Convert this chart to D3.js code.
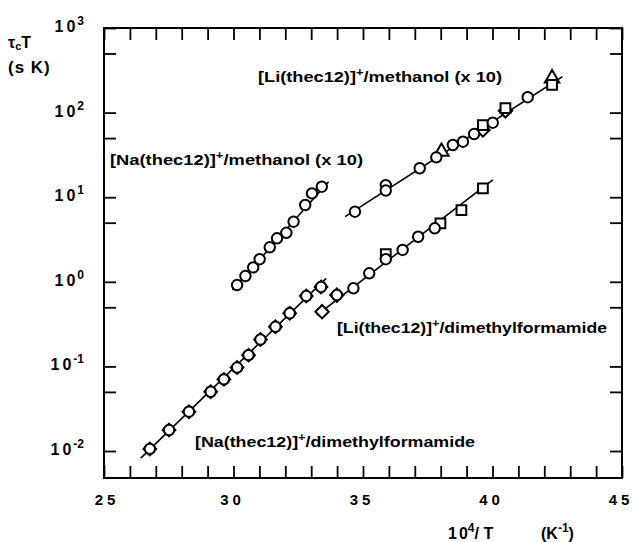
<!DOCTYPE html>
<html>
<head>
<meta charset="utf-8">
<script src="https://cdn.jsdelivr.net/npm/d3@7"></script>
<style>
  body { margin: 0; background: #fff; }
  text { font-family: "Liberation Sans", Arial, sans-serif; fill: #000; }
</style>
</head>
<body>
<div id="chart"></div>
<script>
// data (x = 10^4/T, y = tau_c T in s K)
const naDmfX = [26.77, 27.51, 28.28, 29.12, 29.63, 30.14, 30.58, 31.04, 31.62, 32.17, 32.81, 33.38];
const naDmfY = [0.0106, 0.0177, 0.0292, 0.0502, 0.0703, 0.097, 0.136, 0.208, 0.294, 0.425, 0.679, 0.869];

const naMethX = [30.14, 30.46, 30.76, 31.01, 31.40, 31.68, 32.04, 32.32, 32.77, 33.03, 33.41];
const naMethY = [0.916, 1.17, 1.48, 1.85, 2.56, 3.27, 3.80, 5.13, 8.09, 11.1, 13.3];

const liDmfX = [33.99, 34.63, 35.24, 35.88, 36.53, 37.13, 37.77];
const liDmfY = [0.698, 0.838, 1.26, 1.85, 2.38, 3.41, 4.29];
const liDmfSqX = [35.88, 37.99, 38.80, 39.63];
const liDmfSqY = [2.13, 4.91, 7.06, 12.7];
const liDmfDiX = [33.42, 33.99];
const liDmfDiY = [0.443, 0.698];

const liMethX = [34.69, 35.88, 35.88, 37.19, 37.83, 38.47, 38.86, 39.29, 40.01, 41.36];
const liMethY = [6.74, 13.9, 12.0, 22.0, 29.6, 41.4, 45.3, 55.8, 76, 152];
const liMethSqX = [39.63, 40.50, 42.30];
const liMethSqY = [71.3, 113, 212];
const liMethDiX = [39.63, 40.50];
const liMethDiY = [62.3, 105];
const liMethTriX = [38.03, 42.30];
const liMethTriY = [34.5, 254];

// fitted lines, end points
const fitLines = [
  { x: [26.42, 33.58], y: [0.00826, 1.10] },
  { x: [29.96, 33.67], y: [0.80, 15.2] },
  { x: [33.22, 40.01], y: [0.405, 16.0] },
  { x: [34.31, 42.70], y: [5.89, 266] }
];

const xTicks = d3.range(25, 46, 1);
const xLabels = [25, 30, 35, 40, 45];
const yMajor = [-2, -1, 0, 1, 2, 3];
const yMinor = [0.05, 0.5, 5, 50, 500];

const width = 632, height = 542;
const margin = { top: 28, right: 10, bottom: 64, left: 104 };
const plotW = width - margin.left - margin.right;
const plotH = height - margin.top - margin.bottom;

const svg = d3.select("#chart")
  .append("svg")
  .attr("width", width)
  .attr("height", height);

const g = svg.append("g")
  .attr("transform", `translate(${margin.left},${margin.top})`);

const x = d3.scaleLinear().domain([25, 45]).range([0, plotW]);
const y = d3.scaleLog().domain([0.0048, 1000]).range([plotH, 0]);

// frame
g.append("rect")
  .attr("width", plotW).attr("height", plotH)
  .attr("fill", "none").attr("stroke", "#000").attr("stroke-width", 2);

const tickLen = 12;
// x ticks (top and bottom, inward)
g.append("g").attr("transform", `translate(0,${plotH})`)
  .call(d3.axisBottom(x).tickValues(xTicks).tickSizeInner(-tickLen).tickSizeOuter(0).tickFormat(""))
  .call(a => a.select(".domain").remove())
  .selectAll("line").attr("stroke-width", 1.8);
g.append("g")
  .call(d3.axisTop(x).tickValues(xTicks).tickSizeInner(-tickLen).tickSizeOuter(0).tickFormat(""))
  .call(a => a.select(".domain").remove())
  .selectAll("line").attr("stroke-width", 1.8);

// y ticks (left and right, inward)
const yTickVals = yMajor.map(e => Math.pow(10, e)).concat(yMinor);
g.append("g")
  .call(d3.axisLeft(y).tickValues(yTickVals).tickSizeInner(-tickLen).tickSizeOuter(0).tickFormat(""))
  .call(a => a.select(".domain").remove())
  .selectAll("line").attr("stroke-width", 1.8);
g.append("g").attr("transform", `translate(${plotW},0)`)
  .call(d3.axisRight(y).tickValues(yTickVals).tickSizeInner(-tickLen).tickSizeOuter(0).tickFormat(""))
  .call(a => a.select(".domain").remove())
  .selectAll("line").attr("stroke-width", 1.8);

// x tick labels (digits spaced apart like the original)
const xlab = g.selectAll(".xlab")
  .data(xLabels)
  .enter().append("text")
  .attr("x", d => x(d) - (d === 25 ? -1 : 3))
  .attr("y", plotH + 27)
  .attr("text-anchor", "middle")
  .style("font-size", "15px").style("font-weight", "bold");
xlab.append("tspan").text(d => String(d)[0]);
xlab.append("tspan").attr("dx", 4).text(d => String(d)[1]);

// y tick labels
const ylab = g.selectAll(".ylab")
  .data(yMajor)
  .enter().append("text")
  .attr("x", -20)
  .attr("y", d => y(Math.pow(10, d)) + 4)
  .attr("text-anchor", "end")
  .style("font-size", "16px").style("font-weight", "bold");
ylab.append("tspan").text("1");
ylab.append("tspan").attr("dx", 3).text("0");
ylab.append("tspan").attr("dx", 2).attr("dy", -7).style("font-size", "12px").text(d => d < 0 ? "-" + (-d) : d);

// axis titles
const yt = svg.append("text").attr("x", 8).attr("y", 48)
  .style("font-size", "16px").style("font-weight", "bold");
yt.append("tspan").text("τ");
yt.append("tspan").attr("dy", 2).style("font-size", "11px").text("c");
yt.append("tspan").attr("dy", -2).text("T");
svg.append("text").attr("x", 8).attr("y", 73)
  .style("font-size", "17px").style("font-weight", "bold")
  .style("letter-spacing", "1px").text("(s  K)");

const xt = svg.append("text").attr("x", 448).attr("y", 539)
  .style("font-size", "16px").style("font-weight", "bold");
xt.append("tspan").text("1");
xt.append("tspan").attr("dx", 2).text("0");
xt.append("tspan").attr("dy", -7).style("font-size", "12px").text("4");
xt.append("tspan").attr("dy", 7).text("/ T");
xt.append("tspan").attr("x", 541).text("(K");
xt.append("tspan").attr("dy", -7).style("font-size", "12px").text("-1");
xt.append("tspan").attr("dy", 7).text(")");

// fitted lines
const line = d3.line().x(d => x(d[0])).y(d => y(d[1]));
g.selectAll(".fit")
  .data(fitLines)
  .enter().append("path")
  .attr("d", d => line(d.x.map((v, i) => [v, d.y[i]])))
  .attr("fill", "none").attr("stroke", "#000").attr("stroke-width", 1.6);

function zip(xs, ys) { return xs.map((v, i) => [v, ys[i]]); }

function drawSymbols(xs, ys, type, size, rot) {
  g.append("g").selectAll("path")
    .data(zip(xs, ys))
    .enter().append("path")
    .attr("transform", d => `translate(${x(d[0])},${y(d[1])}) rotate(${rot || 0})`)
    .attr("d", d3.symbol().type(type).size(size))
    .attr("fill", "#fff").attr("stroke", "#000").attr("stroke-width", 2);
}

// overlapping symbol sets
drawSymbols(naDmfX, naDmfY, d3.symbolSquare, 80, 45);
drawSymbols(liDmfDiX, liDmfDiY, d3.symbolSquare, 90, 45);
drawSymbols(liMethDiX, liMethDiY, d3.symbolSquare, 90, 45);
drawSymbols(liMethTriX, liMethTriY, d3.symbolTriangle, 90);
drawSymbols(liDmfSqX, liDmfSqY, d3.symbolSquare, 95);
drawSymbols(liMethSqX, liMethSqY, d3.symbolSquare, 95);
drawSymbols(naDmfX, naDmfY, d3.symbolCircle, 85);
drawSymbols(naMethX, naMethY, d3.symbolCircle, 85);
drawSymbols(liDmfX, liDmfY, d3.symbolCircle, 85);
drawSymbols(liMethX, liMethY, d3.symbolCircle, 85);

// series labels
function seriesLabel(px, py, metal, rest, len) {
  const t = svg.append("text").attr("x", px).attr("y", py)
    .attr("textLength", len).attr("lengthAdjust", "spacingAndGlyphs")
    .style("font-size", "14px").style("font-weight", "bold");
  t.append("tspan").text("[" + metal + "(thec12)]");
  t.append("tspan").attr("dy", -6).style("font-size", "10px").text("+");
  t.append("tspan").attr("dy", 6).text(rest);
}
seriesLabel(258, 82, "Li", "/methanol (x 10)", 244);
seriesLabel(110, 165, "Na", "/methanol (x 10)", 253);
seriesLabel(337, 333, "Li", "/dimethylformamide", 270);
seriesLabel(195, 447, "Na", "/dimethylformamide", 280);
</script>
</body>
</html>
